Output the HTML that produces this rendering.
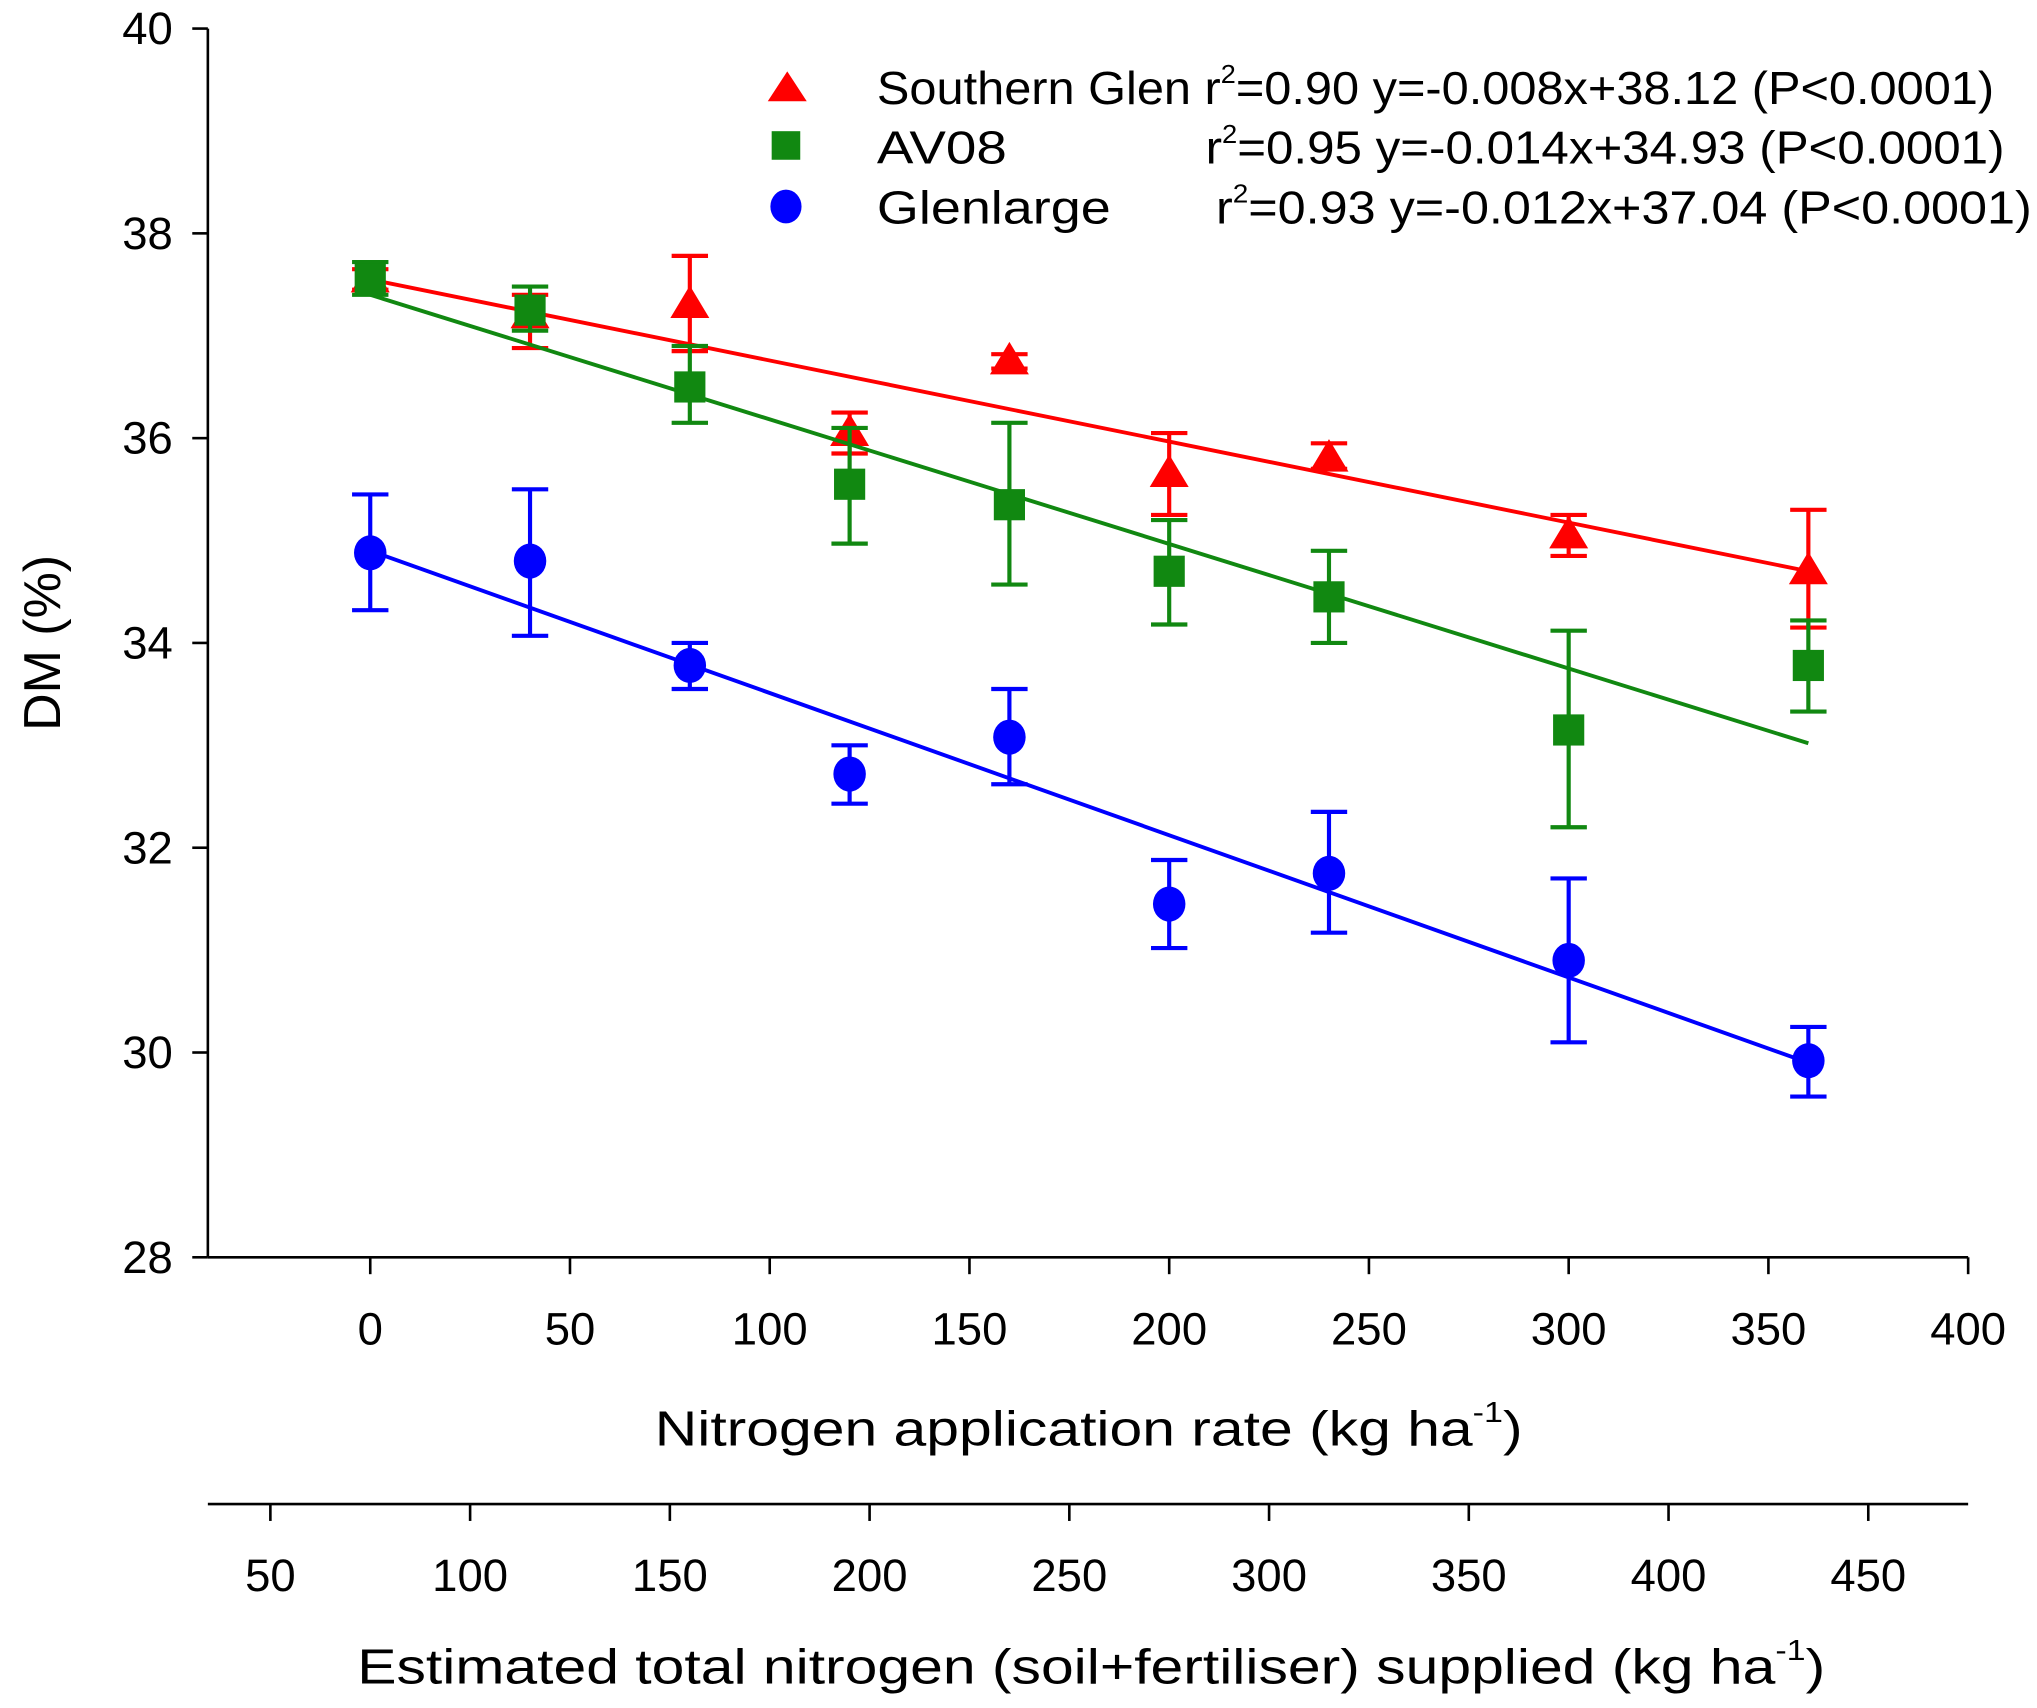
<!DOCTYPE html>
<html><head><meta charset="utf-8"><style>
html,body{margin:0;padding:0;background:#fff}
svg{display:block}
text{font-family:"Liberation Sans",Arial,sans-serif;fill:#000}
</style></head><body>
<svg id="chart" width="2037" height="1708" viewBox="0 0 1568 1315" preserveAspectRatio="none" xmlns="http://www.w3.org/2000/svg">
<g id="axes"></g><g id="marks"></g>
<g>
<polygon points="606,55 591,78 621,78" fill="#ff0000"/>
<rect x="594" y="101" width="22" height="22" fill="#118811"/>
<ellipse cx="605" cy="159" rx="12" ry="13" fill="#0000ff"/>
<text x="675" y="80" font-size="36" textLength="860" lengthAdjust="spacingAndGlyphs">Southern Glen r<tspan font-size="20" dy="-16">2</tspan><tspan dy="16">=0.90 y=-0.008x+38.12 (P&lt;0.0001)</tspan></text>
<text x="675" y="126" font-size="36" textLength="100" lengthAdjust="spacingAndGlyphs">AV08</text>
<text x="928" y="126" font-size="36" textLength="615" lengthAdjust="spacingAndGlyphs">r<tspan font-size="20" dy="-16">2</tspan><tspan dy="16">=0.95  y=-0.014x+34.93 (P&lt;0.0001)</tspan></text>
<text x="675" y="172" font-size="36" textLength="180" lengthAdjust="spacingAndGlyphs">Glenlarge</text>
<text x="936" y="172" font-size="36" textLength="628" lengthAdjust="spacingAndGlyphs">r<tspan font-size="20" dy="-16">2</tspan><tspan dy="16">=0.93   y=-0.012x+37.04 (P&lt;0.0001)</tspan></text>
</g>
<text transform="translate(46,495) rotate(-90)" text-anchor="middle" font-size="40">DM (%)</text>
<text x="838" y="1113" text-anchor="middle" font-size="38" textLength="668" lengthAdjust="spacingAndGlyphs">Nitrogen application rate (kg ha<tspan font-size="22" dy="-18">-1</tspan><tspan dy="18">)</tspan></text>
<text x="840" y="1296" text-anchor="middle" font-size="38" textLength="1130" lengthAdjust="spacingAndGlyphs">Estimated total nitrogen (soil+fertiliser) supplied (kg ha<tspan font-size="22" dy="-18">-1</tspan><tspan dy="18">)</tspan></text>
</svg>
<script>
const xValues=[0,40,80,120,160,200,240,300,360];
const sgMean=[37.55,37.2,37.3,36.05,36.75,35.65,35.8,35.05,34.7];
const sgHi=[37.65,37.4,37.78,36.25,36.82,36.05,35.95,35.25,35.3];
const sgLo=[37.45,36.88,36.85,35.85,36.68,35.25,35.7,34.85,34.15];
const avMean=[37.55,37.25,36.5,35.55,35.35,34.7,34.45,33.15,33.78];
const avHi=[37.72,37.48,36.9,36.1,36.15,35.2,34.9,34.12,34.22];
const avLo=[37.4,37.05,36.15,34.97,34.57,34.18,34.0,32.2,33.33];
const glMean=[34.88,34.8,33.78,32.72,33.08,31.45,31.75,30.9,29.92];
const glHi=[35.45,35.5,34.0,33.0,33.55,31.88,32.35,31.7,30.25];
const glLo=[34.32,34.07,33.55,32.43,32.62,31.02,31.17,30.1,29.57];
const sgFit=[37.55,34.7];
const avFit=[37.4,33.02];
const glFit=[34.9,29.9];
const yTicks=[28,30,32,34,36,38,40];
const xTicks=[0,50,100,150,200,250,300,350,400];
const x2Ticks=[50,100,150,200,250,300,350,400,450];
const x2Offset=75;

const NS='http://www.w3.org/2000/svg';
const X=v=>285+v*(1515-285)/400;
const Y=v=>968-(v-28)*(968-22)/12;
function mk(parent,tag,attrs){const e=document.createElementNS(NS,tag);for(const k in attrs)e.setAttribute(k,attrs[k]);parent.appendChild(e);return e;}
const axes=document.getElementById('axes'),marks=document.getElementById('marks');
let e;
e=mk(axes,'line',{x1:160,y1:22,x2:160,y2:968,stroke:'#000','stroke-width':2});

e=mk(axes,'line',{x1:160,y1:968,x2:1515,y2:968,stroke:'#000','stroke-width':2});

e=mk(axes,'line',{x1:160,y1:1158,x2:1515,y2:1158,stroke:'#000','stroke-width':2});

yTicks.forEach(t=>{
 e=mk(axes,'line',{x1:148,y1:Y(t),x2:160,y2:Y(t),stroke:'#000','stroke-width':2});
 
 e=mk(axes,'text',{x:133,y:Y(t)+12,'text-anchor':'end','font-size':35});e.textContent=t;
 
});
xTicks.forEach(t=>{
 e=mk(axes,'line',{x1:X(t),y1:968,x2:X(t),y2:981,stroke:'#000','stroke-width':2});
 
 e=mk(axes,'text',{x:X(t),y:1035,'text-anchor':'middle','font-size':35});e.textContent=t;
 
});
x2Ticks.forEach(t=>{
 const px=X(t-x2Offset);
 e=mk(axes,'line',{x1:px,y1:1158,x2:px,y2:1171,stroke:'#000','stroke-width':2});
 
 e=mk(axes,'text',{x:px,y:1225,'text-anchor':'middle','font-size':35});e.textContent=t;
 
});
const series=[
 {n:'southern-glen',c:'#ff0000',m:sgMean,h:sgHi,l:sgLo,f:sgFit,s:'tri'},
 {n:'av08',c:'#118811',m:avMean,h:avHi,l:avLo,f:avFit,s:'sq'},
 {n:'glenlarge',c:'#0000ff',m:glMean,h:glHi,l:glLo,f:glFit,s:'circ'}];
series.forEach(S=>{
 const last=xValues[xValues.length-1];
 e=mk(marks,'line',{x1:X(0),y1:Y(S.f[0]),x2:X(last),y2:Y(S.f[1]),stroke:S.c,'stroke-width':3});
 
 xValues.forEach((xv,i)=>{
  const px=X(xv);
  const g=mk(marks,'g',{stroke:S.c,'stroke-width':3.2});
  
  mk(g,'line',{x1:px,y1:Y(S.h[i]),x2:px,y2:Y(S.l[i])});
  mk(g,'line',{x1:px-14,y1:Y(S.h[i]),x2:px+14,y2:Y(S.h[i])});
  mk(g,'line',{x1:px-14,y1:Y(S.l[i]),x2:px+14,y2:Y(S.l[i])});
  const py=Y(S.m[i]);
  if(S.s==='tri') e=mk(marks,'polygon',{points:`${px},${py-15} ${px-15},${py+10} ${px+15},${py+10}`,fill:S.c});
  else if(S.s==='sq') e=mk(marks,'rect',{x:px-12,y:py-12,width:24,height:24,fill:S.c});
  else e=mk(marks,'ellipse',{cx:px,cy:py,rx:12.5,ry:13.5,fill:S.c});
  
 });
});
</script>
</body></html>
